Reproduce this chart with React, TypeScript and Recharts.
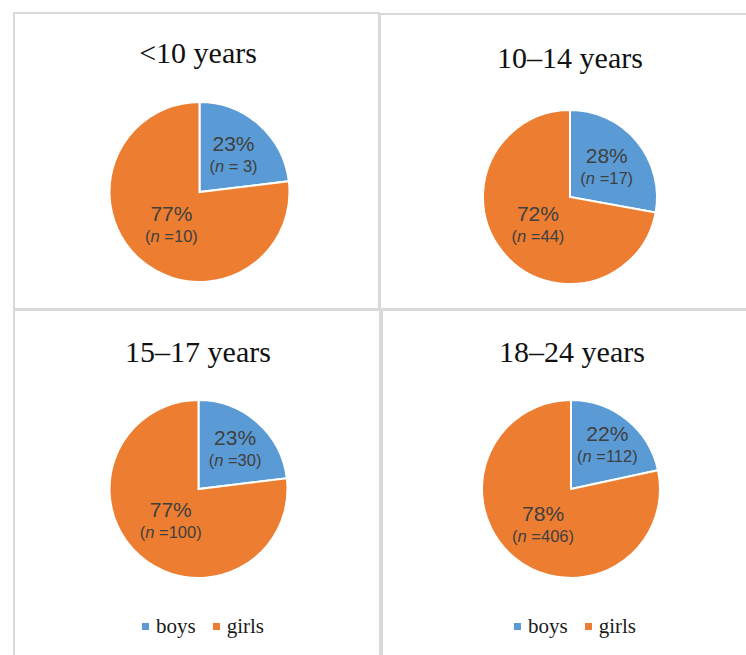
import React from "react";
import { PieChart, Pie, Cell, Legend } from "recharts";

const ageGroups = ["<10 years", "10–14 years", "15–17 years", "18–24 years"];
const sexes = ["boys", "girls"];
const boysCounts = [3, 17, 30, 112];
const girlsCounts = [10, 44, 100, 406];
const sexColors = ["#5B9BD5", "#ED7D31"];

// layout (page coordinates)
const panels = [
  { left: 13, top: 12, w: 367, h: 298, cx: 199.5, cy: 192, r: 90, tx: 198, tb: 63, legend: false, lr: [0.57, 0.47], legendLeft: 0 },
  { left: 379, top: 13, w: 370, h: 297, cx: 570, cy: 197, r: 87, tx: 570, tb: 68, legend: false, lr: [0.55, 0.48], legendLeft: 0 },
  { left: 13, top: 309, w: 368, h: 350, cx: 198.5, cy: 489, r: 89, tx: 198, tb: 362, legend: true, lr: [0.62, 0.47], legendLeft: 142 },
  { left: 381, top: 309, w: 370, h: 350, cx: 571, cy: 489, r: 89, tx: 572, tb: 362, legend: true, lr: [0.65, 0.5], legendLeft: 514 },
];

const RAD = Math.PI / 180;

const makeLabel = (factors: number[]) => (props: any) => {
  const { cx, cy, midAngle, outerRadius, percent, value, index } = props;
  const rr = outerRadius * factors[index];
  const x = cx + rr * Math.cos(-midAngle * RAD);
  const y = cy + rr * Math.sin(-midAngle * RAD);
  return (
    <text
      x={x}
      y={y}
      fill="#404040"
      textAnchor="middle"
      fontFamily="'Liberation Sans', Arial, sans-serif"
    >
      <tspan x={x} y={y - 3} fontSize={21}>
        {Math.round(percent * 100)}%
      </tspan>
      <tspan x={x} y={y + 18} fontSize={16.5}>
        (<tspan fontStyle="italic">n</tspan>
        {` =${value < 10 ? " " : ""}${value})`}
      </tspan>
    </text>
  );
};

const renderLegend = (props: any) => {
  const { payload } = props;
  return (
    <div
      style={{
        display: "flex",
        alignItems: "center",
        fontFamily: "'Liberation Serif', 'Times New Roman', serif",
        fontSize: 21,
        color: "#1a1a1a",
        whiteSpace: "nowrap",
      }}
    >
      {(payload || []).map((p: any, i: number) => (
        <div key={i} style={{ display: "flex", alignItems: "center", marginRight: i === 0 ? 17 : 0 }}>
          <span style={{ display: "inline-block", width: 7, height: 7, background: p.color, marginRight: 7 }} />
          <span>{p.value}</span>
        </div>
      ))}
    </div>
  );
};

export default function App() {
  return (
    <div
      style={{
        position: "absolute",
        left: 0,
        top: 0,
        width: 746,
        height: 655,
        overflow: "hidden",
        background: "#fff",
      }}
    >
      {panels.map((p, k) => (
        <div
          key={k}
          style={{
            position: "absolute",
            left: p.left,
            top: p.top,
            width: p.w,
            height: p.h,
            boxSizing: "border-box",
            border: "2px solid #d9d9d9",
          }}
        />
      ))}
      {panels.map((p, k) => {
        const data = sexes.map((s, i) => ({ name: s, value: i === 0 ? boysCounts[k] : girlsCounts[k] }));
        return (
          <div key={"c" + k} style={{ position: "absolute", left: p.left, top: p.top, width: p.w, height: p.h }}>
            <div
              style={{
                position: "absolute",
                left: p.tx - p.left - 150,
                width: 300,
                top: p.tb - p.top - 25.1,
                textAlign: "center",
                fontFamily: "'Liberation Serif', 'Times New Roman', serif",
                fontSize: 30,
                lineHeight: "30px",
                color: "#111",
                whiteSpace: "nowrap",
              }}
            >
              {ageGroups[k]}
            </div>
            <PieChart width={p.w} height={p.h} margin={{ top: 0, right: 0, bottom: 0, left: 0 }}>
              <Pie
                data={data}
                dataKey="value"
                nameKey="name"
                cx={p.cx - p.left}
                cy={p.cy - p.top}
                outerRadius={p.r}
                startAngle={90}
                endAngle={-270}
                stroke="#ffffff"
                strokeWidth={2}
                labelLine={false}
                label={makeLabel(p.lr)}
                isAnimationActive={false}
              >
                {data.map((d, i) => (
                  <Cell key={i} fill={sexColors[i]} />
                ))}
              </Pie>
              {p.legend && (
                <Legend
                  verticalAlign="bottom"
                  content={renderLegend}
                  wrapperStyle={{ position: "absolute", top: 614 - p.top, left: p.legendLeft - p.left, width: "auto", bottom: "auto" }}
                />
              )}
            </PieChart>
          </div>
        );
      })}
    </div>
  );
}
